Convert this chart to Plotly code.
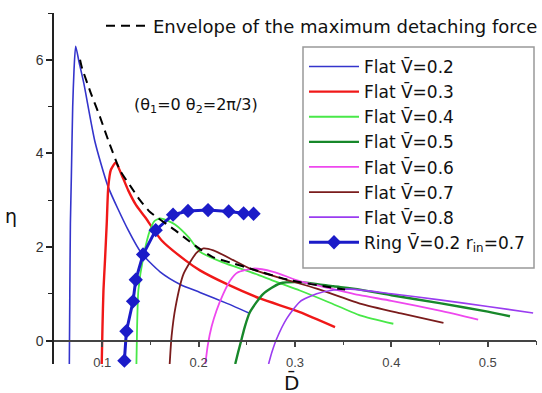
import plotly.graph_objects as go

# ---- data ----
V_bar = "V\u0304"
flat_names = [f"Flat {V_bar}=0.2", f"Flat {V_bar}=0.3", f"Flat {V_bar}=0.4", f"Flat {V_bar}=0.5",
              f"Flat {V_bar}=0.6", f"Flat {V_bar}=0.7", f"Flat {V_bar}=0.8"]

d_v02 = [0.0659, 0.0664, 0.0670, 0.0680, 0.0694, 0.0708, 0.0725, 0.0760, 0.0809, 0.0925, 0.1063,
         0.1270, 0.1410, 0.1600, 0.1810, 0.2014, 0.2300, 0.2533]
eta_v02 = [-0.5, 1.0, 2.5, 3.5, 5.0, 5.8, 6.29, 5.95, 5.5, 4.25, 3.28, 2.36, 1.86, 1.47, 1.2,
           1.03, 0.79, 0.58]

d_v03 = [0.0995, 0.1003, 0.1013, 0.1029, 0.1047, 0.1063, 0.1090, 0.1140, 0.1200, 0.1270, 0.1350,
         0.1444, 0.1617, 0.1860, 0.2014, 0.2300, 0.2637, 0.3050, 0.3415]
eta_v03 = [-0.5, 0.3, 1.07, 1.72, 2.5, 3.28, 3.65, 3.8, 3.55, 3.21, 2.9, 2.64, 2.14, 1.72, 1.5,
           1.2, 0.9, 0.61, 0.29]

d_v04 = [0.1355, 0.1362, 0.1375, 0.1427, 0.1496, 0.1540, 0.1600, 0.1670, 0.1755, 0.1900, 0.2014,
         0.2250, 0.2533, 0.2800, 0.3050, 0.3350, 0.3674, 0.4020]
eta_v04 = [-0.5, 0.3, 1.07, 1.79, 2.36, 2.55, 2.61, 2.57, 2.48, 2.2, 1.9, 1.67, 1.47, 1.26, 1.07,
           0.82, 0.54, 0.36]

d_v05 = [0.2380, 0.2410, 0.2447, 0.2480, 0.2533, 0.2671, 0.2844, 0.3050, 0.3400, 0.3674, 0.4000,
         0.4500, 0.5000, 0.5230]
eta_v05 = [-0.5, -0.25, 0.04, 0.3, 0.61, 1.0, 1.22, 1.25, 1.16, 1.09, 0.97, 0.8, 0.62, 0.52]

d_v06 = [0.2070, 0.2095, 0.2135, 0.2187, 0.2256, 0.2326, 0.2400, 0.2567, 0.2775, 0.3050, 0.3397,
         0.3674, 0.4000, 0.4500, 0.4900]
eta_v06 = [-0.5, -0.1, 0.3, 0.65, 1.0, 1.28, 1.45, 1.54, 1.47, 1.27, 1.1, 0.97, 0.85, 0.64, 0.45]

d_v07 = [0.1700, 0.1720, 0.1760, 0.1845, 0.1980, 0.2050, 0.2153, 0.2360, 0.2533, 0.2879, 0.3225,
         0.3674, 0.4100, 0.4540]
eta_v07 = [-0.5, 0.1, 0.71, 1.43, 1.88, 1.97, 1.93, 1.72, 1.54, 1.32, 1.11, 0.79, 0.58, 0.38]

d_v08 = [0.2726, 0.2760, 0.2810, 0.2914, 0.3050, 0.3225, 0.3400, 0.3575, 0.4000, 0.4500, 0.5000,
         0.5470]
eta_v08 = [-0.5, -0.25, 0.04, 0.47, 0.83, 1.0, 1.08, 1.1, 1.0, 0.87, 0.73, 0.59]

d_ring = [0.123, 0.1251, 0.132, 0.1348, 0.1424, 0.1555, 0.1735, 0.189, 0.2098, 0.2312, 0.2467, 0.257]
eta_ring = [-0.43, 0.2, 0.84, 1.3, 1.84, 2.36, 2.69, 2.77, 2.79, 2.76, 2.72, 2.71]
ring_name = f"Ring {V_bar}=0.2 r<sub>in</sub>=0.7"

d_env = [0.0770, 0.0787, 0.0880, 0.0977, 0.1063, 0.1185, 0.1300, 0.1392, 0.1496, 0.1755, 0.1900,
         0.2032, 0.2153, 0.2360, 0.2533, 0.2948, 0.3329, 0.3520]
eta_env = [6.0, 5.85, 5.3, 4.78, 4.28, 3.64, 3.28, 3.0, 2.75, 2.36, 2.13, 1.93, 1.78, 1.65, 1.54,
           1.29, 1.15, 1.09]
env_name = "Envelope of the maximum detaching force"

x_ticks = [0.1, 0.2, 0.3, 0.4, 0.5]
y_ticks = [0, 2, 4, 6]

# ---- styles ----
flat_series = [(d_v02, eta_v02), (d_v03, eta_v03), (d_v04, eta_v04), (d_v05, eta_v05),
               (d_v06, eta_v06), (d_v07, eta_v07), (d_v08, eta_v08)]
flat_colors = ["#3434cc", "#f01818", "#48e848", "#17882a", "#ee48ee", "#7a1c1c", "#9a3cf0"]
flat_widths = [1.6, 2.4, 1.8, 2.4, 1.8, 1.8, 1.6]

FONT = "DejaVu Sans, Arial, sans-serif"

fig = go.Figure()
for (dx, ey), name, col, w in zip(flat_series, flat_names, flat_colors, flat_widths):
    fig.add_trace(go.Scatter(x=dx, y=ey, mode="lines", name=name,
                             line=dict(color=col, width=w, shape="spline", smoothing=0.6),
                             cliponaxis=True))

fig.add_trace(go.Scatter(x=d_ring, y=eta_ring, mode="lines+markers", name=ring_name,
                         line=dict(color="#1b1bc8", width=3),
                         marker=dict(symbol="diamond", size=11, color="#1b1bc8"),
                         cliponaxis=False))

fig.add_trace(go.Scatter(x=d_env, y=eta_env, mode="lines", name=env_name,
                         line=dict(color="black", width=2, dash="9px,6px",
                                   shape="spline", smoothing=0.6),
                         legend="legend2"))

W, H = 542, 393
ml, mr, mt, mb = 54, 6, 13, 29
pw, ph = W - ml - mr, H - mt - mb


def px_x(px):
    return (px - ml) / pw


def px_y(py):
    return (H - mb - py) / ph


fig.update_layout(
    width=W, height=H,
    margin=dict(l=ml, r=mr, t=mt, b=mb, autoexpand=False),
    paper_bgcolor="white", plot_bgcolor="white",
    font=dict(family=FONT, size=17, color="#111"),
    showlegend=True,
    legend=dict(x=px_x(304), y=px_y(49), xanchor="left", yanchor="top",
                bgcolor="rgba(255,255,255,0)", borderwidth=0,
                font=dict(family=FONT, size=17, color="#111"),
                itemwidth=50, tracegroupgap=0),
    legend2=dict(x=px_x(101), y=px_y(26), xanchor="left", yanchor="middle",
                 bgcolor="rgba(255,255,255,0)", borderwidth=0,
                 font=dict(family=FONT, size=18, color="#111"), itemwidth=42),
    xaxis=dict(range=[0.05, 0.55], anchor="free", position=0.5 / 7.5,
               showline=True, linecolor="#444", linewidth=1.5,
               ticks="outside", ticklen=6, tickwidth=1.5, tickcolor="#444",
               ticklabelstandoff=4,
               tickvals=x_ticks, ticktext=[f"{v:.1f}" for v in x_ticks],
               tickfont=dict(family="Liberation Sans, Arial", size=13, color="#444"),
               minor=dict(tickvals=[0.15, 0.25, 0.35, 0.45, 0.55], ticks="outside",
                          ticklen=4, tickwidth=1.2, tickcolor="#444"),
               showgrid=False, zeroline=False),
    yaxis=dict(range=[-0.5, 7], showline=True, linecolor="#222", linewidth=1.5,
               ticks="outside", ticklen=6, tickwidth=1.5, tickcolor="#222",
               tickvals=y_ticks, ticktext=[str(v) for v in y_ticks],
               tickfont=dict(family="Liberation Sans, Arial", size=14, color="#333"),
               minor=dict(tickvals=[1, 3, 5, 7], ticks="outside", ticklen=4,
                          tickwidth=1.2, tickcolor="#222"),
               showgrid=False, zeroline=False),
    shapes=[dict(type="rect", xref="paper", yref="paper",
                 x0=px_x(303), x1=px_x(534), y0=px_y(268), y1=px_y(47),
                 line=dict(color="#999", width=1.5), fillcolor="rgba(0,0,0,0)",
                 layer="above")],
    annotations=[
        dict(text="(\u03b8<sub>1</sub>=0 \u03b8<sub>2</sub>=2\u03c0/3)", xref="paper", yref="paper",
             x=px_x(196), y=px_y(106), xanchor="center", yanchor="middle", showarrow=False,
             font=dict(family=FONT, size=16, color="#111")),
        dict(text="\u03b7", xref="paper", yref="paper", x=px_x(11), y=px_y(216),
             xanchor="center", yanchor="middle", showarrow=False,
             font=dict(family=FONT, size=19, color="#111")),
        dict(text="D\u0304", xref="paper", yref="paper", x=px_x(291), y=px_y(382),
             xanchor="center", yanchor="middle", showarrow=False,
             font=dict(family=FONT, size=20, color="#111")),
    ],
)

fig.write_html("out.html")
